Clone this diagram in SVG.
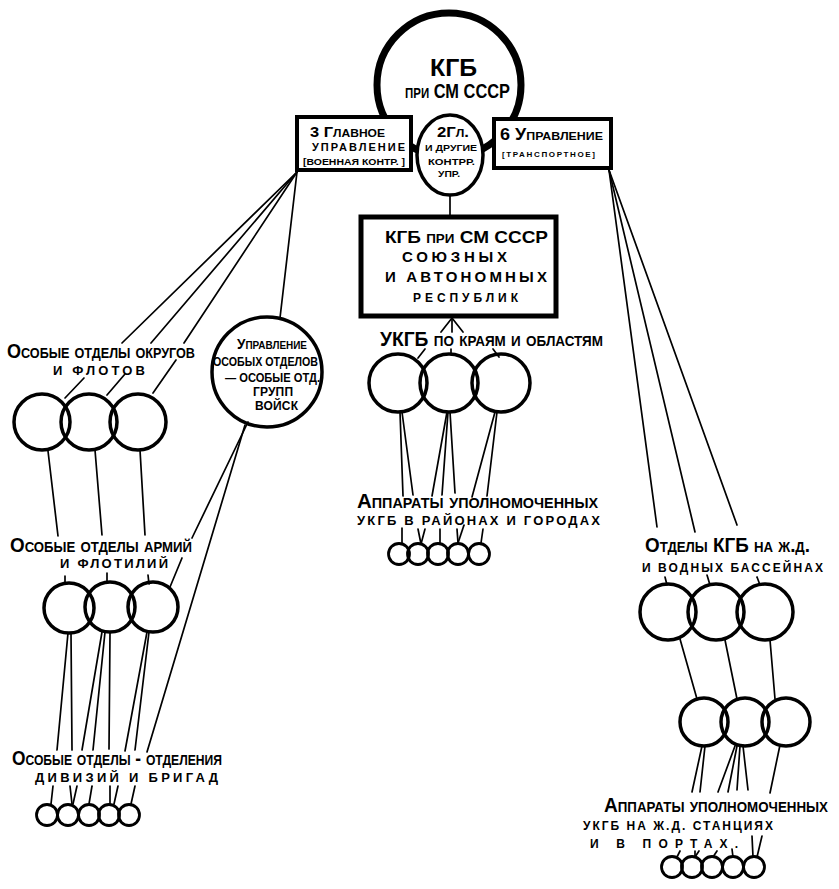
<svg xmlns="http://www.w3.org/2000/svg" width="839" height="889" viewBox="0 0 839 889">
<style>
text{font-family:"Liberation Sans",Arial,sans-serif;font-weight:bold;fill:#000}
.sc{font-variant:small-caps}
.c{fill:none;stroke:#000;stroke-width:3.5}
.cs{fill:none;stroke:#000;stroke-width:2.8}
.box{fill:#fff;stroke:#000;stroke-width:4}
#connectors line{stroke:#000;stroke-width:1.7;stroke-linecap:round}
.thick{stroke-width:5 !important}
</style>
<rect width="839" height="889" fill="#fff"/>

<g id="connectors">
<line x1="450" y1="194" x2="450" y2="217"/>
<line class="thick" x1="410" y1="143" x2="418" y2="143"/>
<line class="thick" x1="482" y1="142" x2="494" y2="140"/>
<line x1="297" y1="172" x2="122" y2="343"/>
<line x1="84" y1="378" x2="65" y2="398"/>
<line x1="297" y1="172" x2="151" y2="343"/>
<line x1="125" y1="374" x2="107" y2="395"/>
<line x1="297" y1="172" x2="184" y2="343"/>
<line x1="176" y1="360" x2="153" y2="393"/>
<line x1="297" y1="172" x2="280" y2="318"/>
<line x1="48" y1="451" x2="58" y2="536"/>
<line x1="95" y1="450" x2="102" y2="535"/>
<line x1="140" y1="450" x2="145" y2="535"/>
<line x1="65" y1="576" x2="65" y2="583"/>
<line x1="107" y1="573" x2="107" y2="583"/>
<line x1="148" y1="575" x2="149" y2="584"/>
<line x1="248" y1="422" x2="192" y2="538"/>
<line x1="182" y1="558" x2="170" y2="587"/>
<line x1="245" y1="425" x2="147" y2="752"/>
<line x1="68" y1="633" x2="57" y2="750"/>
<line x1="71" y1="633" x2="72" y2="750"/>
<line x1="102" y1="632" x2="82" y2="750"/>
<line x1="105" y1="632" x2="93" y2="750"/>
<line x1="110" y1="633" x2="109" y2="749"/>
<line x1="147" y1="632" x2="125" y2="751"/>
<line x1="149" y1="632" x2="135" y2="750"/>
<line x1="53" y1="786" x2="51" y2="804"/>
<line x1="70" y1="786" x2="72" y2="804"/>
<line x1="77" y1="786" x2="73" y2="804"/>
<line x1="92" y1="786" x2="89" y2="804"/>
<line x1="110" y1="786" x2="110" y2="804"/>
<line x1="118" y1="786" x2="114" y2="804"/>
<line x1="135" y1="786" x2="131" y2="804"/>
<line x1="452" y1="318" x2="441" y2="332"/>
<line x1="452" y1="318" x2="452" y2="332"/>
<line x1="452" y1="318" x2="463" y2="332"/>
<line x1="425" y1="349" x2="418" y2="358"/>
<line x1="451" y1="349" x2="451" y2="354"/>
<line x1="493" y1="349" x2="499" y2="357"/>
<line x1="400" y1="412" x2="403" y2="496"/>
<line x1="402" y1="412" x2="413" y2="495"/>
<line x1="447" y1="412" x2="432" y2="496"/>
<line x1="448" y1="412" x2="442" y2="495"/>
<line x1="450" y1="412" x2="455" y2="493"/>
<line x1="495" y1="412" x2="472" y2="497"/>
<line x1="497" y1="412" x2="487" y2="496"/>
<line x1="402" y1="528" x2="402" y2="543"/>
<line x1="418" y1="529" x2="421" y2="544"/>
<line x1="425" y1="529" x2="421" y2="544"/>
<line x1="440" y1="529" x2="440" y2="543"/>
<line x1="457" y1="529" x2="458" y2="543"/>
<line x1="464" y1="525" x2="458" y2="543"/>
<line x1="483" y1="529" x2="481" y2="543"/>
<line x1="609" y1="170" x2="657" y2="527"/>
<line x1="609" y1="170" x2="695" y2="532"/>
<line x1="609" y1="170" x2="737" y2="525"/>
<line x1="665" y1="577" x2="667" y2="585"/>
<line x1="707" y1="575" x2="710" y2="585"/>
<line x1="757" y1="577" x2="760" y2="585"/>
<line x1="680" y1="639" x2="697" y2="699"/>
<line x1="725" y1="640" x2="737" y2="699"/>
<line x1="770" y1="640" x2="775" y2="699"/>
<line x1="702" y1="746" x2="692" y2="792"/>
<line x1="705" y1="746" x2="700" y2="792"/>
<line x1="735" y1="746" x2="718" y2="792"/>
<line x1="737" y1="746" x2="728" y2="792"/>
<line x1="740" y1="746" x2="737" y2="790"/>
<line x1="743" y1="746" x2="748" y2="790"/>
<line x1="780" y1="745" x2="770" y2="793"/>
<line x1="680" y1="851" x2="677" y2="857"/>
<line x1="695" y1="851" x2="695" y2="857"/>
<line x1="699" y1="851" x2="695" y2="857"/>
<line x1="717" y1="851" x2="713" y2="857"/>
<line x1="732" y1="849" x2="733" y2="857"/>
<line x1="752" y1="836" x2="753" y2="857"/>
<line x1="762" y1="836" x2="757" y2="857"/>
</g>

<g id="kgb">
<circle cx="449" cy="85" r="72" fill="#fff" stroke="#000" stroke-width="7"/>
<text x="430" y="76" font-size="23" textLength="47" lengthAdjust="spacingAndGlyphs">КГБ</text>
<text class="sc" x="405" y="98" font-size="20" textLength="105" lengthAdjust="spacingAndGlyphs">при СМ СССР</text>
</g>

<g id="glavnoe3">
<rect class="box" x="297" y="117" width="114" height="53"/>
<text class="sc" x="310" y="137" font-size="15" textLength="75" lengthAdjust="spacingAndGlyphs">3 Главное</text>
<text x="312" y="151" font-size="11" textLength="93">УПРАВЛЕНИЕ</text>
<text x="303" y="165" font-size="9" textLength="102" lengthAdjust="spacingAndGlyphs">[ВОЕННАЯ КОНТР. ]</text>
</g>

<g id="gl2">
<ellipse cx="450" cy="155" rx="33" ry="40" fill="#fff" stroke="#000" stroke-width="3.5"/>
<text class="sc" x="437" y="137" font-size="15" textLength="32" lengthAdjust="spacingAndGlyphs">2Гл.</text>
<text x="425" y="151" font-size="9" textLength="52" lengthAdjust="spacingAndGlyphs">И ДРУГИЕ</text>
<text x="428" y="165" font-size="9" textLength="47" lengthAdjust="spacingAndGlyphs">КОНТРР.</text>
<text x="438" y="177" font-size="9" textLength="22" lengthAdjust="spacingAndGlyphs">УПР.</text>
</g>

<g id="upr6">
<rect class="box" x="494" y="119" width="117" height="49"/>
<text class="sc" x="500" y="140" font-size="16" textLength="103" lengthAdjust="spacingAndGlyphs">6 Управление</text>
<text x="502" y="157" font-size="8" textLength="93">[ТРАНСПОРТНОЕ]</text>
</g>

<g id="republics">
<rect x="361" y="217" width="195" height="99" fill="#fff" stroke="#000" stroke-width="5"/>
<text class="sc" x="385" y="243" font-size="17" textLength="163" lengthAdjust="spacingAndGlyphs">КГБ при СМ СССР</text>
<text x="402" y="262" font-size="15" textLength="105">СОЮЗНЫХ</text>
<text x="385" y="282" font-size="15" textLength="162">И АВТОНОМНЫХ</text>
<text x="413" y="302" font-size="12" textLength="105">РЕСПУБЛИК</text>
</g>

<g id="ukgb-kraya">
<text class="sc" x="380" y="346" font-size="20" textLength="223" lengthAdjust="spacingAndGlyphs">УКГБ по краям и областям</text>
<circle class="c" cx="398" cy="383" r="29"/>
<circle class="c" cx="449" cy="383" r="29"/>
<circle class="c" cx="501" cy="383" r="29"/>
</g>

<g id="apparaty-rayony">
<text class="sc" x="357" y="508" font-size="20" textLength="241" lengthAdjust="spacingAndGlyphs">Аппараты уполномоченных</text>
<text x="357" y="525" font-size="13" textLength="243">УКГБ В РАЙОНАХ И ГОРОДАХ</text>
<circle class="cs" cx="399" cy="554" r="10.5"/>
<circle class="cs" cx="418" cy="554" r="10.5"/>
<circle class="cs" cx="438" cy="554" r="10.5"/>
<circle class="cs" cx="458" cy="554" r="10.5"/>
<circle class="cs" cx="479" cy="554" r="10.5"/>
</g>

<g id="okruga">
<text class="sc" x="7" y="358" font-size="20" textLength="188" lengthAdjust="spacingAndGlyphs">Особые отделы округов</text>
<text x="53" y="375" font-size="13" textLength="92">И ФЛОТОВ</text>
<circle class="c" cx="42" cy="422" r="28"/>
<circle class="c" cx="89" cy="422" r="28"/>
<circle class="c" cx="138" cy="422" r="28"/>
</g>

<g id="upr-osobykh">
<circle cx="267" cy="372" r="55" fill="none" stroke="#000" stroke-width="3.5"/>
<text class="sc" x="237" y="349" font-size="15" textLength="70" lengthAdjust="spacingAndGlyphs">Управление</text>
<text x="213" y="366" font-size="13" textLength="105" lengthAdjust="spacingAndGlyphs">ОСОБЫХ ОТДЕЛОВ</text>
<text x="225" y="382" font-size="13" textLength="95" lengthAdjust="spacingAndGlyphs">— ОСОБЫЕ ОТД.</text>
<text x="253" y="396" font-size="12" textLength="40">ГРУПП</text>
<text x="255" y="410" font-size="12" textLength="43">ВОЙСК</text>
</g>

<g id="armii">
<text class="sc" x="10" y="552" font-size="20" textLength="182" lengthAdjust="spacingAndGlyphs">Особые отделы армий</text>
<text x="60" y="568" font-size="13" textLength="108">И ФЛОТИЛИЙ</text>
<circle class="c" cx="69" cy="608" r="25"/>
<circle class="c" cx="110" cy="607" r="25"/>
<circle class="c" cx="153" cy="607" r="25"/>
</g>

<g id="divizii">
<text class="sc" x="12" y="765" font-size="20" textLength="210" lengthAdjust="spacingAndGlyphs">Особые отделы - отделения</text>
<text x="35" y="782" font-size="13" textLength="183">ДИВИЗИЙ И БРИГАД</text>
<circle class="cs" cx="47" cy="815" r="10.5"/>
<circle class="cs" cx="68" cy="815" r="10.5"/>
<circle class="cs" cx="89" cy="815" r="10.5"/>
<circle class="cs" cx="109" cy="815" r="10.5"/>
<circle class="cs" cx="129" cy="815" r="10.5"/>
</g>

<g id="zhd">
<text class="sc" x="645" y="552" font-size="20" textLength="165" lengthAdjust="spacingAndGlyphs">Отделы КГБ на ж.д.</text>
<text x="642" y="572" font-size="12" textLength="181">И ВОДНЫХ БАССЕЙНАХ</text>
<circle class="c" cx="668" cy="612" r="28"/>
<circle class="c" cx="716" cy="612" r="28"/>
<circle class="c" cx="765" cy="612" r="28"/>
</g>

<g id="zhd-2">
<circle class="c" cx="704" cy="722" r="24"/>
<circle class="c" cx="745" cy="722" r="24"/>
<circle class="c" cx="786" cy="722" r="24"/>
</g>

<g id="apparaty-stantsii">
<text class="sc" x="604" y="812" font-size="20" textLength="224" lengthAdjust="spacingAndGlyphs">Аппараты уполномоченных</text>
<text x="583" y="830" font-size="12" textLength="190">УКГБ НА Ж.Д. СТАНЦИЯХ</text>
<text x="590" y="848" font-size="12" textLength="148">И В ПОРТАХ.</text>
<circle class="cs" cx="672" cy="867" r="10.5"/>
<circle class="cs" cx="692" cy="867" r="10.5"/>
<circle class="cs" cx="712" cy="867" r="10.5"/>
<circle class="cs" cx="733" cy="867" r="10.5"/>
<circle class="cs" cx="754" cy="867" r="10.5"/>
</g>
</svg>
